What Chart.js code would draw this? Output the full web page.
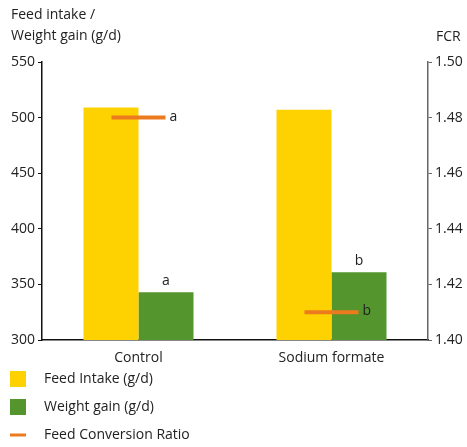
<!DOCTYPE html>
<html>
<head>
<meta charset="utf-8">
<script src="https://cdn.jsdelivr.net/npm/chart.js@4/dist/chart.umd.min.js"></script>
<style>
  html, body { margin: 0; padding: 0; background: #fff; }
  #wrap { width: 467px; height: 447px; }
</style>
</head>
<body>
<div id="wrap"><canvas id="grafico" width="467" height="447"></canvas></div>
<script>
// Datos
const categorias = ['Control', 'Sodium formate'];
const consumo = [509, 507];          // Feed intake (g/d)
const ganancia = [343, 361];         // Weight gain (g/d)
const fcr = [1.480, 1.410];          // Feed Conversion Ratio
const letrasGanancia = ['a', 'b'];
const letrasFcr = ['a', 'b'];
const ticksIzq = [300, 350, 400, 450, 500, 550];
const ticksDer = [1.40, 1.42, 1.44, 1.46, 1.48, 1.50];

const nombres = ['Feed Intake (g/d)', 'Weight gain (g/d)', 'Feed Conversion Ratio'];
const colores = ['#FDD200', '#54952D', '#EC7A1F'];
const fuente = '"Open Sans", "Noto Sans", sans-serif';
const colorTexto = '#222';

// Plugin: titulos de ejes, letras de significancia y leyenda
const extras = {
  id: 'extras',
  afterDraw(chart) {
    const ctx = chart.ctx;
    ctx.save();
    ctx.fillStyle = colorTexto;
    ctx.font = '14px ' + fuente;
    ctx.textBaseline = 'middle';
    ctx.textAlign = 'left';
    ctx.fillText('Feed intake /', 11, 15);
    ctx.fillText('Weight gain (g/d)', 11, 36);
    ctx.fillText('FCR', 436, 37);

    // letras sobre las barras verdes
    const metaG = chart.getDatasetMeta(1);
    metaG.data.forEach((bar, i) => {
      ctx.textAlign = 'center';
      ctx.fillText(letrasGanancia[i], bar.x, bar.y - 11);
    });
    // letras junto a la linea FCR
    const metaF = chart.getDatasetMeta(2);
    metaF.data.forEach((pt, i) => {
      ctx.textAlign = 'left';
      ctx.fillText(letrasFcr[i], pt.x + 31, pt.y - 1);
    });

    // leyenda
    const filas = [379, 407, 435];
    filas.forEach((y, i) => {
      ctx.fillStyle = colores[i];
      if (i < 2) ctx.fillRect(10, y - 8, 16, 16);
      else ctx.fillRect(10, y - 1.5, 16, 3);
      ctx.fillStyle = colorTexto;
      ctx.textAlign = 'left';
      ctx.fillText(nombres[i], 44, y);
    });
    ctx.restore();
  }
};

const ctx = document.getElementById('grafico');
new Chart(ctx, {
  data: {
    labels: categorias,
    datasets: [
      { type: 'bar', label: nombres[0], data: consumo, backgroundColor: colores[0], yAxisID: 'y', order: 2,
        categoryPercentage: 0.57, barPercentage: 1 },
      { type: 'bar', label: nombres[1], data: ganancia, backgroundColor: colores[1], yAxisID: 'y', order: 2,
        categoryPercentage: 0.57, barPercentage: 1 },
      { type: 'line', label: nombres[2], data: fcr, yAxisID: 'y2', order: 0, showLine: false,
        pointStyle: 'line', pointRadius: 27, pointHoverRadius: 27, pointBorderWidth: 4,
        borderColor: colores[2], pointBorderColor: colores[2], backgroundColor: colores[2] }
    ]
  },
  options: {
    responsive: false,
    animation: false,
    layout: { padding: { top: 62, bottom: 82, left: 0, right: 0 } },
    plugins: { legend: { display: false }, tooltip: { enabled: false } },
    scales: {
      x: {
        grid: { display: false },
        border: { display: true, color: '#111', width: 1.5 },
        ticks: { color: colorTexto, font: { family: fuente, size: 14 }, padding: 2 },
        afterFit(s) { s.height = 25; }
      },
      y: {
        position: 'left',
        min: 300, max: 550,
        afterBuildTicks(s) { s.ticks = ticksIzq.map(v => ({ value: v })); },
        grid: { drawOnChartArea: false, tickLength: 4, color: '#111' },
        border: { display: true, color: '#111', width: 1.5 },
        ticks: { color: colorTexto, font: { family: fuente, size: 14 }, padding: 3 },
        afterFit(s) { s.width = 42; }
      },
      y2: {
        position: 'right',
        min: 1.40, max: 1.50,
        afterBuildTicks(s) { s.ticks = ticksDer.map(v => ({ value: v })); },
        grid: { drawOnChartArea: false, tickLength: 4, color: '#666' },
        border: { display: true, color: '#666', width: 1.5 },
        ticks: { color: colorTexto, font: { family: fuente, size: 14 }, padding: 3,
          callback: v => Number(v).toFixed(2) },
        afterFit(s) { s.width = 39; }
      }
    }
  },
  plugins: [extras]
});
</script>
</body>
</html>
